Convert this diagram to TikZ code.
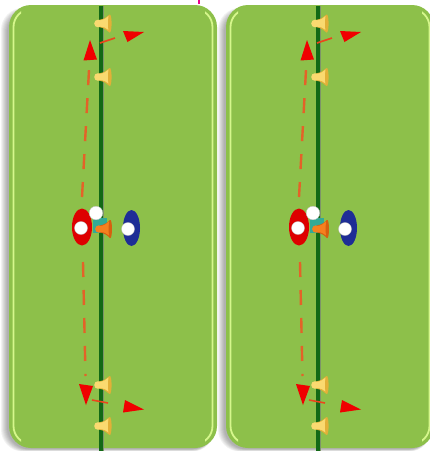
\documentclass[tikz,border=0pt]{standalone}
\definecolor{field}{RGB}{141,192,74}
\definecolor{hilite}{RGB}{214,247,140}
\definecolor{linegreen}{RGB}{18,105,22}
\definecolor{lineedge}{RGB}{125,148,105}
\definecolor{dashcol}{RGB}{228,98,40}
\definecolor{arrowred}{RGB}{240,0,0}
\definecolor{conegold}{RGB}{250,218,112}
\definecolor{conedark}{RGB}{226,176,56}
\definecolor{coneorange}{RGB}{246,128,30}
\definecolor{conedarkor}{RGB}{215,95,15}
\definecolor{plred}{RGB}{222,0,0}
\definecolor{plblue}{RGB}{30,45,150}
\definecolor{tealmark}{RGB}{50,170,150}
\begin{document}
\begin{tikzpicture}[x=1pt,y=-1pt,
  pics/ycone/.style={code={
    \fill[conedark] (-4,-3.6) .. controls (1,-4.4) and (4,-6.5) .. (6.5,-9) -- (6.5,9) .. controls (4,6.5) and (1,4.4) .. (-4,3.6) -- cycle;
    \fill[conegold] (-4,-3) .. controls (1,-3.6) and (3.5,-5.5) .. (5.5,-7.5) -- (5.5,6.5) .. controls (3.5,4.5) and (1,3.4) .. (-4,3) -- cycle;
    \fill[conegold] (-5,0) circle (3.8);
    \fill[conedark] (6.8,0) ellipse (1.8 and 9);
  }},
  pics/ocone/.style={code={
    \fill[conedarkor] (-4,-3.4) .. controls (1,-4.2) and (4,-6.5) .. (6.5,-9) -- (6.5,9) .. controls (4,6.5) and (1,4.2) .. (-4,3.4) -- cycle;
    \fill[coneorange] (-4,-2.8) .. controls (1,-3.4) and (3.5,-5.5) .. (5.5,-7.5) -- (5.5,6.5) .. controls (3.5,4.5) and (1,3.2) .. (-4,2.8) -- cycle;
    \fill[coneorange] (-4.8,0) circle (3.6);
    \fill[conedarkor] (6.8,0) ellipse (1.7 and 9);
  }},
  dashrun/.style={dashcol, line width=2.4, dash pattern=on 15 off 13},
  shortrun/.style={dashcol!70!red, line width=1.6},
  redhead/.style={fill=arrowred},
  whitedot/.style={fill=white, draw=black!25, line width=0.3}
]
\useasboundingbox (0,0) rectangle (430,451);
\clip (0,0) rectangle (430,451);
\newcommand\fieldpanel[1]{%
\begin{scope}[shift={(#1,0)}]
  % shadow
  \foreach \k in {0,...,6} {
    \fill[black, opacity=0.05, rounded corners=22] (1+\k,8+\k*0.4) rectangle (214,451.5-\k*0.4);
  }
  % field
  \fill[field, rounded corners=22] (9,5) rectangle (217,448);
  \begin{scope}
    \clip (9,5) rectangle (21,448);
    \draw[hilite, line width=1.8, rounded corners=18] (13.5,9) rectangle (212.5,444);
  \end{scope}
  \begin{scope}
    \clip (205,5) rectangle (217,448);
    \draw[hilite, line width=1.8, rounded corners=18] (13.5,9) rectangle (212.5,444);
  \end{scope}
  % centre line
  \draw[lineedge, line width=5.5] (101.3,5.5) -- (101.3,451);
  \draw[linegreen, line width=4] (100.5,5.5) -- (100.5,451);
  % runs
  \draw[dashrun] (82,197) -- (89.5,61);
  \draw[dashrun] (83,262) -- (85.5,376);
  \draw[shortrun] (100,43) -- (115,38);
  \draw[shortrun] (92,400) -- (108,403);
  % players
  \fill[plred] (82,227) ellipse (10 and 18.5);
  \fill[plblue] (131.5,228) ellipse (8.5 and 18);
  \fill[tealmark] (93,218) rectangle (107,233);
  \fill[whitedot] (81,228) circle (6.5);
  \fill[whitedot] (128,229) circle (6.5);
  \fill[whitedot] (96,213) circle (6.8);
  \pic at (103.5,229) {ocone};
  % cones
  \pic at (103,23.5) {ycone};
  \pic at (103,77) {ycone};
  \pic at (103,385) {ycone};
  \pic at (103,426) {ycone};
  % arrow heads
  \fill[redhead] (83.5,60.5) -- (97,59.5) -- (90,40) -- cycle;
  \fill[redhead] (123,31) -- (144,32) -- (127.5,42) -- cycle;
  \fill[redhead] (79,384) -- (93,386) -- (86,405) -- cycle;
  \fill[redhead] (125,400) -- (144,409.5) -- (123,412.5) -- cycle;
\end{scope}}
\fieldpanel{0}
\fieldpanel{217}
\draw[magenta, line width=2] (198.5,0) -- (198.5,3.5);
\end{tikzpicture}
\end{document}
